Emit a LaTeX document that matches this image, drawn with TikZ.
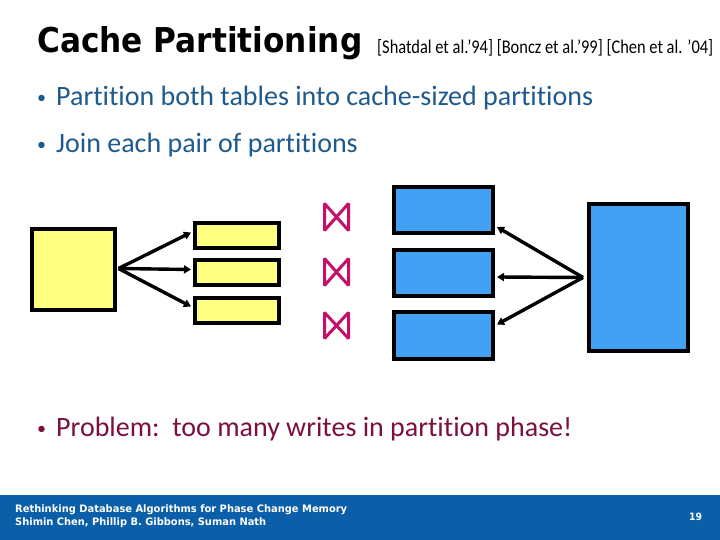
\documentclass[tikz,border=0pt]{standalone}
\usepackage{fontspec}
\setmainfont{Carlito}[Ligatures={NoCommon}]
\newfontfamily\titlefont{DejaVu Sans}
\usetikzlibrary{arrows.meta,calc}
\definecolor{boxyellow}{HTML}{FFFF80}
\definecolor{boxblue}{HTML}{42A1F3}
\definecolor{joinmag}{HTML}{C4106A}
\definecolor{bullblue}{HTML}{1F5A8E}
\definecolor{probred}{HTML}{7B1040}
\definecolor{footblue}{HTML}{0B5EA8}
\tikzset{
  ybox/.style={draw=black,line width=4pt,fill=boxyellow,inner sep=0pt,rectangle},
  bbox/.style={draw=black,line width=4pt,fill=boxblue,inner sep=0pt,rectangle},
  conn/.style={draw=black,line width=3.4pt,-{Triangle[length=7pt,width=8pt]}},
  bowtie/.style={draw=joinmag,line width=3pt,line join=miter,miter limit=2},
  bullettext/.style={anchor=base west,inner sep=0pt,font=\fontsize{28}{32}\selectfont},
  foottext/.style={anchor=base west,inner sep=0pt,text=white},
}
\begin{document}
\begin{tikzpicture}[x=1pt,y=-1pt]
\useasboundingbox (0,0) rectangle (720,540);
\fill[white] (0,0) rectangle (720,540);
% title
\node[anchor=base west,inner sep=0pt] (title) at (37,53)
  {\resizebox{325pt}{26pt}{\titlefont\bfseries Cache Partitioning}};
\node[anchor=base west,inner sep=0pt] (cite) at (377,54)
  {\resizebox{336pt}{14pt}{[Shatdal et al.’94] [Boncz et al.’99] [Chen et al. ’04]}};
% bullets
\node[bullettext,text=bullblue] (b1d) at (37,104) {\fontsize{18}{24}\selectfont •};
\node[bullettext,text=bullblue] (b1) at (56,106) {Partition both tables into cache-sized partitions};
\node[bullettext,text=bullblue] (b2d) at (37,151) {\fontsize{18}{24}\selectfont •};
\node[bullettext,text=bullblue] (b2) at (56,153) {Join each pair of partitions};
\node[bullettext,text=probred] (b3d) at (37,434) {\fontsize{18}{24}\selectfont •};
\node[bullettext,text=probred] (b3) at (56,436) {Problem:\ \ too many writes in partition phase!};
% yellow boxes
\node[ybox,minimum width=83pt,minimum height=81pt] (ysrc) at (73.5,269.5) {};
\node[ybox,minimum width=84pt,minimum height=25pt] (y1) at (237,235.5) {};
\node[ybox,minimum width=84pt,minimum height=25pt] (y2) at (237,272.5) {};
\node[ybox,minimum width=84pt,minimum height=25pt] (y3) at (237,310.5) {};
\coordinate (ys) at ($(ysrc.east)+(1.5,-1)$);
\coordinate (ye1) at ($(y1.west)+(-2,-3)$);
\coordinate (ye2) at ($(y2.west)+(-2,-3)$);
\coordinate (ye3) at ($(y3.west)+(-2,-4)$);
\draw[conn] (ys) -- (ye1);
\draw[conn] (ys) -- (ye2);
\draw[conn] (ys) -- (ye3);
% blue boxes
\node[bbox,minimum width=99pt,minimum height=46pt] (p1) at (443.5,210) {};
\node[bbox,minimum width=99pt,minimum height=46pt] (p2) at (443.5,273) {};
\node[bbox,minimum width=99pt,minimum height=47pt] (p3) at (443.5,335.5) {};
\node[bbox,minimum width=99pt,minimum height=147pt] (psrc) at (638.5,277.5) {};
\coordinate (ps) at ($(psrc.west)+(-4,0)$);
\coordinate (pe1) at ($(p1.east)+(2,17)$);
\coordinate (pe2) at ($(p2.east)+(2,4)$);
\coordinate (pe3) at ($(p3.east)+(2,-11)$);
\draw[conn] (ps) -- (pe1);
\draw[conn] (ps) -- (pe2);
\draw[conn] (ps) -- (pe3);
% join symbols
\foreach \t/\b in {203.5/230.5, 258.5/285.5, 312.5/338.5}{
  \draw[bowtie] (324.5,\t) -- (324.5,\b) -- (348.5,\t) -- (348.5,\b) -- cycle;
}
% footer
\fill[footblue] (0,495) rectangle (720,540);
\node[foottext] (f1) at (15,512)
  {\resizebox{332pt}{7.8pt}{\titlefont\bfseries Rethinking Database Algorithms for Phase Change Memory}};
\node[foottext] (f2) at (15,525)
  {\resizebox{251pt}{7.8pt}{\titlefont\bfseries Shimin Chen, Phillip B. Gibbons, Suman Nath}};
\node[foottext] (f3) at (689,520)
  {\resizebox{13pt}{7.5pt}{\titlefont\bfseries 19}};
\end{tikzpicture}
\end{document}
